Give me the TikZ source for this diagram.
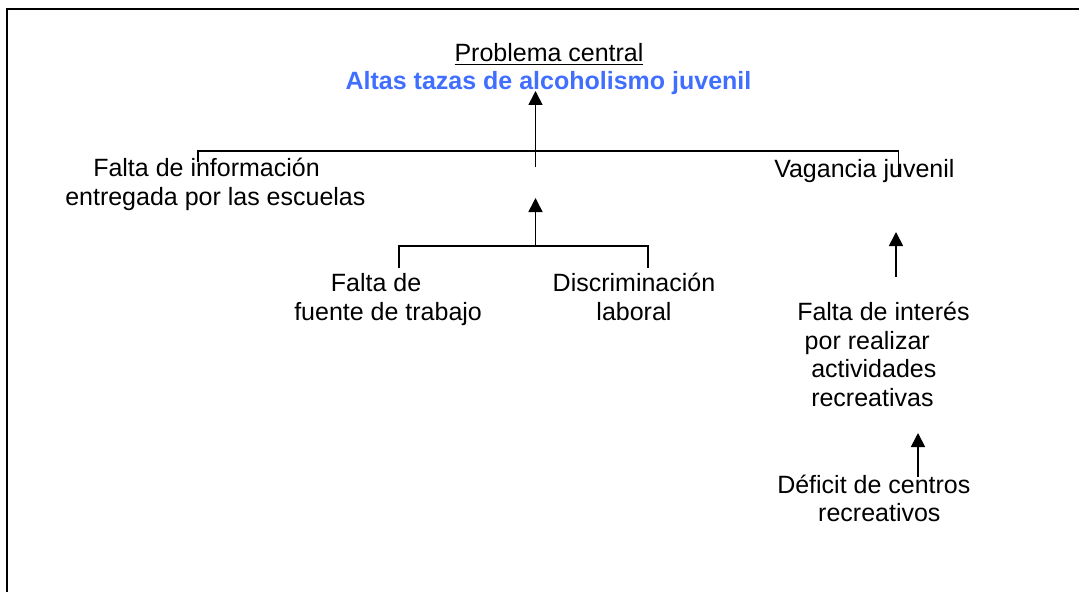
\documentclass[tikz,border=0pt]{standalone}
\usepackage{fontspec}
\setmainfont{Liberation Sans}
\usetikzlibrary{arrows.meta}
\definecolor{titleblue}{RGB}{64,110,255}
\tikzset{
  lbl/.style={inner sep=0pt,align=left,font=\fontsize{18.75}{21.3}\selectfont},
  link/.style={line width=1.25pt},
  uparrow/.style={link,-{Triangle[length=10.5pt,width=10.5pt]}},
}
\begin{document}
\begin{tikzpicture}[x=0.75pt,y=-0.75pt]
  \useasboundingbox (0,0) rectangle (1079,592);
  \clip (0,0) rectangle (1079,592);
  \draw[line width=1.6pt] (7,620) -- (7,9) -- (1100,9);
  \node[lbl,anchor=base] (prob) at (549,62) {\underline{Problema central}};
  \node[lbl,anchor=base,font=\fontsize{18.75}{21.3}\selectfont\bfseries,text=titleblue]
    (alcohol) at (548.5,90) {Altas tazas de alcoholismo juvenil};
  \node[lbl,anchor=base west] (info) at (65,205)
    {\hspace*{21pt}Falta de información\\entregada por las escuelas};
  \node[lbl,anchor=base west] (vagancia) at (774,177) {Vagancia juvenil};
  \node[lbl,anchor=base west] (trabajo) at (294,320)
    {\hspace*{27.5pt}Falta de\\fuente de trabajo};
  \node[lbl,anchor=base,align=center] (discrim) at (634,320) {Discriminación\\laboral};
  \node[lbl,anchor=base west] (interes) at (797,406)
    {Falta de interés\\\hspace*{5.6pt}por realizar\\\hspace*{10.5pt}actividades\\\hspace*{10.5pt}recreativas};
  \node[lbl,anchor=base west] (deficit) at (777,521.5)
    {Déficit de centros\\\hspace*{30.7pt}recreativos};
  \coordinate (top w) at (198,162);
  \coordinate (bar w) at (198,151);
  \coordinate (bar e) at (898.5,151);
  \coordinate (top e) at (898.5,177);
  \coordinate (top foot) at (535.5,167);
  \coordinate (top tip) at (535.5,91);
  \coordinate (mid w) at (399,268);
  \coordinate (midbar w) at (399,246);
  \coordinate (midbar e) at (648,246);
  \coordinate (mid e) at (648,268);
  \coordinate (mid foot) at (535.5,246);
  \coordinate (mid tip) at (535.5,198);
  \coordinate (vag foot) at (896,277);
  \coordinate (vag tip) at (896,232);
  \coordinate (int foot) at (918,477);
  \coordinate (int tip) at (918,433);
  \draw[link] (top w) -- (bar w) -- (bar e) -- (top e);
  \draw[link] (mid w) -- (midbar w) -- (midbar e) -- (mid e);
  \foreach \f/\t in {top foot/top tip,mid foot/mid tip,vag foot/vag tip,int foot/int tip}
    \draw[uparrow] (\f) -- (\t);
\end{tikzpicture}
\end{document}
